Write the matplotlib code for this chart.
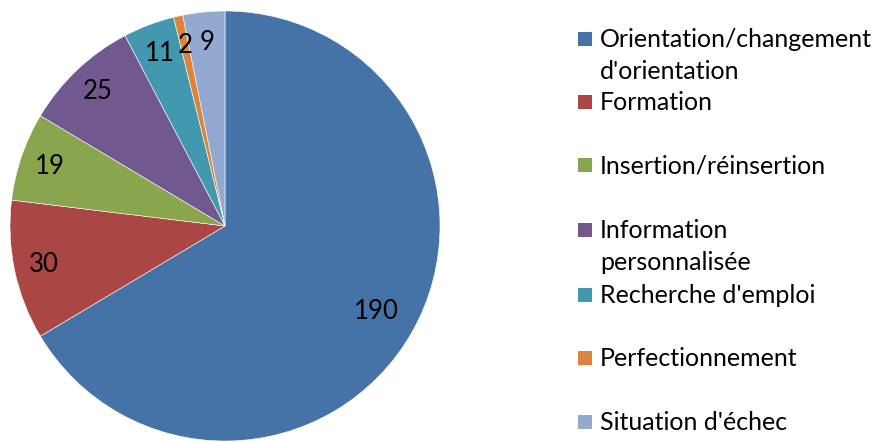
import matplotlib
matplotlib.use("Agg")
import matplotlib.pyplot as plt
from matplotlib.patches import Rectangle
import numpy as np

plt.rcParams['font.family'] = ['Lato', 'DejaVu Sans']

# données
categories = ["Orientation/changement\nd'orientation", "Formation", "Insertion/réinsertion",
              "Information\npersonnalisée", "Recherche d'emploi", "Perfectionnement",
              "Situation d'échec"]
valeurs = [190, 30, 19, 25, 11, 2, 9]
couleurs = ["#4572A7", "#AA4643", "#89A54E", "#71588F", "#4198AF", "#DB843D", "#93A9CF"]

W, H = 876, 442
fig = plt.figure(figsize=(W / 100, H / 100), dpi=100)

# camembert centre (225, 226) px, rayon 215 px
cx, cy, r = 225, 226, 215
ax = fig.add_axes([(cx - r) / W, (H - cy - r) / H, 2 * r / W, 2 * r / H])
wedges, textes = ax.pie(valeurs, colors=couleurs, startangle=90, counterclock=False,
                        wedgeprops={'edgecolor': 'white', 'linewidth': 0.4})
ax.set_xlim(-1, 1)
ax.set_ylim(-1, 1)
ax.set_aspect('equal')

# étiquettes de valeurs
for i, w in enumerate(wedges):
    ang = np.deg2rad((w.theta1 + w.theta2) / 2)
    d = 0.81 if i == 0 else 0.86
    ax.text(d * np.cos(ang), d * np.sin(ang), str(valeurs[i]),
            ha='center', va='center', fontsize=18.5, color='black')

# légende
ypos = [39, 102, 165, 230, 295, 358, 422]
for lab, col, y in zip(categories, couleurs, ypos):
    fig.patches.append(Rectangle((578 / W, 1 - (y + 7) / H), 14 / W, 14 / H,
                                 transform=fig.transFigure, facecolor=col, edgecolor='none'))
    fig.text(600 / W, 1 - (y - 11) / H, lab, ha='left', va='top', fontsize=18,
             linespacing=1.45, color='black')

fig.savefig("out.png", dpi=100)
